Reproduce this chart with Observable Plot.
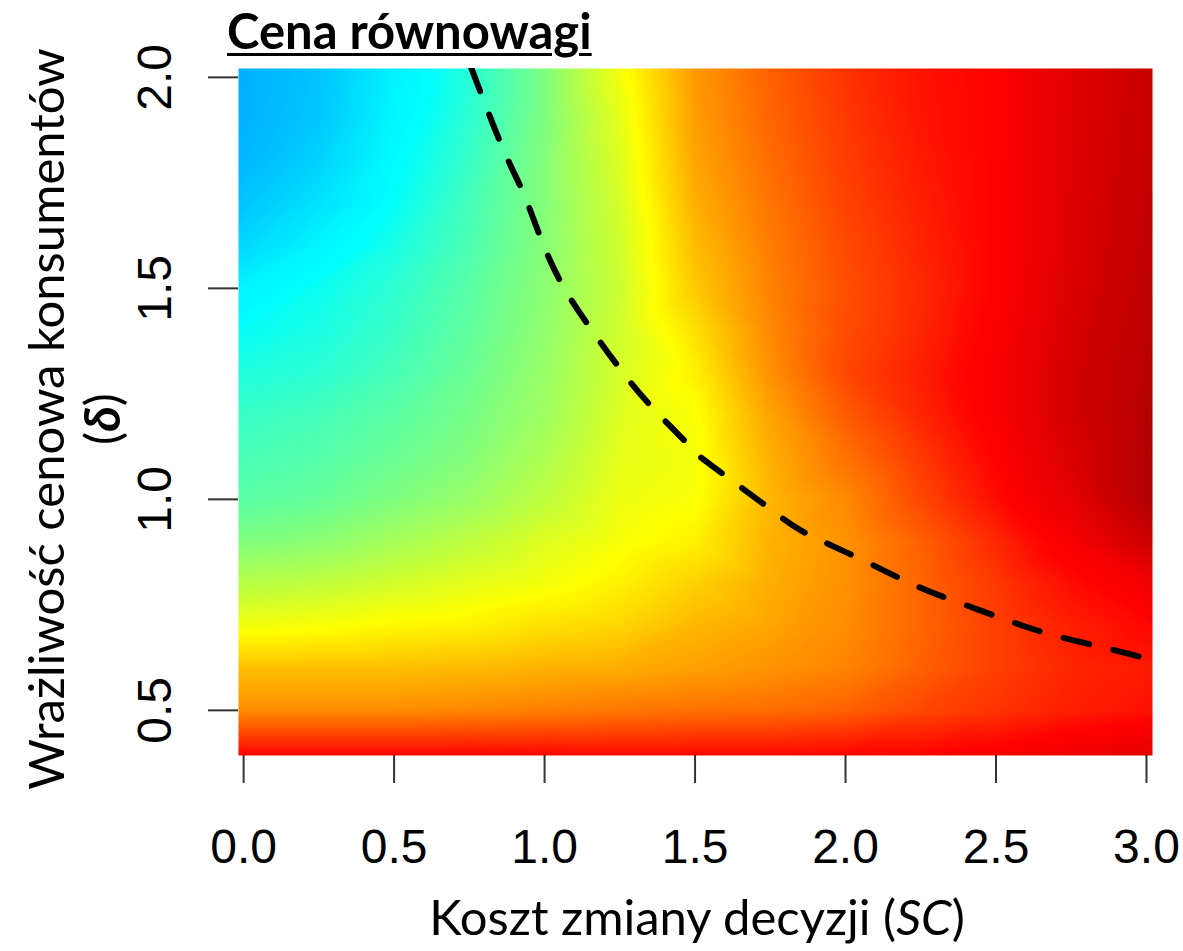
<!DOCTYPE html>
<html>
<head>
<meta charset="utf-8">
<script src="https://cdn.jsdelivr.net/npm/d3@7"></script>
<script src="https://cdn.jsdelivr.net/npm/@observablehq/plot@0.6"></script>
<style>
  html, body { margin: 0; padding: 0; background: #fff; }
  #wrap { position: relative; width: 1183px; height: 951px; overflow: hidden; }
  #chart { position: absolute; left: 0; top: 0; }
  .lbl { position: absolute; font-family: Lato, "Open Sans", sans-serif; color: #000; white-space: nowrap; }
  #title { left: 227px; top: 3px; font-size: 49px; font-weight: bold; text-decoration: underline; text-decoration-thickness: 3px; text-underline-offset: 4px; line-height: 54px; }
  #xlabel { left: 0; width: 1394px; top: 886px; font-size: 49px; text-align: center; line-height: 60px; }
  #ylabel { left: -325px; top: 361px; width: 800px; height: 116px; font-size: 49px; text-align: center; line-height: 56px; transform: rotate(-90deg); transform-origin: 50% 50%; }
</style>
</head>
<body>
<div id="wrap">
  <div id="chart"></div>
  <div id="title" class="lbl">Cena równowagi</div>
  <div id="xlabel" class="lbl">Koszt zmiany decyzji (<i>SC</i>)</div>
  <div id="ylabel" class="lbl">Wrażliwość cenowa konsumentów<br>(<b><i>δ</i></b>)</div>
</div>
<script>
// Switching cost (SC) positions of the colour field columns (outer columns sit on the image edges)
const scValues = [-0.017, 0.25, 0.5, 0.75, 1.0, 1.25, 1.5, 1.75, 2.0, 2.25, 2.5, 2.75, 3.02];
// Price sensitivity (delta) positions of the colour field rows (outer rows sit on the image edges)
const deltaValues = [2.021, 1.9, 1.8, 1.7, 1.6, 1.5, 1.4, 1.3, 1.2, 1.1, 1.0, 0.9, 0.8, 0.7, 0.6, 0.5, 0.393];
// Equilibrium price level (0 = blue, 1 = cyan, 2 = yellow, 3 = red, 4 = dark red)
const priceLevel = [
  [0.00, 0.25, 0.85, 1.15, 1.50, 1.96, 2.40, 2.62, 2.80, 2.93, 3.00, 3.25, 3.47],
  [0.02, 0.30, 0.90, 1.18, 1.50, 1.90, 2.38, 2.60, 2.78, 2.92, 3.00, 3.26, 3.48],
  [0.08, 0.45, 0.97, 1.22, 1.52, 1.87, 2.35, 2.57, 2.76, 2.90, 3.00, 3.27, 3.50],
  [0.25, 0.65, 1.02, 1.27, 1.52, 1.84, 2.31, 2.54, 2.74, 2.88, 3.00, 3.28, 3.52],
  [0.50, 0.90, 1.10, 1.30, 1.53, 1.82, 2.26, 2.51, 2.71, 2.86, 3.00, 3.28, 3.54],
  [0.85, 1.05, 1.18, 1.35, 1.55, 1.80, 2.21, 2.49, 2.69, 2.84, 3.00, 3.30, 3.56],
  [1.02, 1.10, 1.22, 1.38, 1.57, 1.82, 2.12, 2.46, 2.70, 2.85, 3.03, 3.33, 3.60],
  [1.12, 1.17, 1.28, 1.42, 1.60, 1.84, 2.05, 2.43, 2.72, 2.88, 3.06, 3.36, 3.63],
  [1.22, 1.27, 1.36, 1.47, 1.62, 1.87, 1.98, 2.36, 2.64, 2.85, 3.05, 3.36, 3.66],
  [1.28, 1.33, 1.42, 1.52, 1.68, 1.90, 1.96, 2.31, 2.55, 2.78, 3.00, 3.30, 3.68],
  [1.35, 1.40, 1.50, 1.60, 1.75, 1.93, 1.98, 2.28, 2.46, 2.72, 2.95, 3.22, 3.68],
  [1.50, 1.55, 1.65, 1.75, 1.87, 1.97, 2.05, 2.30, 2.42, 2.62, 2.84, 3.07, 3.45],
  [1.72, 1.76, 1.83, 1.90, 1.96, 2.05, 2.18, 2.32, 2.43, 2.60, 2.78, 2.95, 3.10],
  [1.95, 1.98, 2.03, 2.05, 2.12, 2.16, 2.28, 2.35, 2.45, 2.60, 2.75, 2.88, 2.98],
  [2.25, 2.25, 2.25, 2.27, 2.30, 2.32, 2.37, 2.42, 2.48, 2.62, 2.75, 2.85, 2.90],
  [2.45, 2.45, 2.45, 2.47, 2.50, 2.53, 2.56, 2.57, 2.62, 2.72, 2.80, 2.88, 2.94],
  [2.99, 2.99, 2.99, 2.99, 2.98, 2.97, 2.97, 2.97, 2.99, 3.00, 3.04, 3.12, 3.22]
];
// Colour stops of the palette
const levelStops = [0, 1, 2, 3, 4];
const levelColors = ["#00b0ff", "#00ffff", "#ffff00", "#ff0000", "#8b0000"];

// Dashed boundary curve
const curveSC = [0.755, 0.86, 0.93, 0.99, 1.06, 1.15, 1.25, 1.36, 1.48, 1.54, 1.72, 1.85, 2.01, 2.21, 2.34, 2.52, 2.69, 2.87, 3.02];
const curveDelta = [2.025, 1.834, 1.725, 1.614, 1.507, 1.408, 1.31, 1.216, 1.128, 1.088, 0.993, 0.927, 0.872, 0.803, 0.765, 0.718, 0.678, 0.647, 0.619];

// Axis ticks
const xTicks = [0, 0.5, 1.0, 1.5, 2.0, 2.5, 3.0];
const yTicks = [0.5, 1.0, 1.5, 2.0];

const xDomain = [-0.017, 3.02];
const yDomain = [0.393, 2.021];

const gridPoints = [];
deltaValues.forEach((d, i) => scValues.forEach((s, j) => gridPoints.push({sc: s, delta: d, level: priceLevel[i][j]})));
const curvePoints = curveSC.map((s, i) => ({sc: s, delta: curveDelta[i]}));
const fmt = d3.format(".1f");

const chart = Plot.plot({
  width: 1183,
  height: 951,
  marginLeft: 238,
  marginRight: 31,
  marginTop: 68,
  marginBottom: 196,
  style: {fontFamily: "'Liberation Sans', Arial, sans-serif", background: "transparent", overflow: "visible"},
  x: {domain: xDomain},
  y: {domain: yDomain},
  color: {type: "linear", domain: levelStops, range: levelColors, interpolate: "rgb"},
  marks: [
    Plot.raster(gridPoints, {
      x: "sc", y: "delta", fill: "level",
      interpolate: "barycentric",
      x1: xDomain[0], x2: xDomain[1], y1: yDomain[0], y2: yDomain[1]
    }),
    Plot.line(curvePoints, {
      x: "sc", y: "delta", curve: "natural",
      stroke: "#000", strokeWidth: 6, strokeDasharray: "26,25", strokeLinecap: "round",
      clip: true
    }),
    Plot.axisX(xTicks, {
      tickSize: 28, tickPadding: 45, fontSize: 48, tickFormat: fmt,
      label: null, stroke: "#333", strokeWidth: 2
    }),
    Plot.axisY(yTicks, {
      tickSize: 30, tickFormat: () => "", label: null, stroke: "#333", strokeWidth: 2
    }),
    Plot.text(yTicks, {
      y: (d) => d, frameAnchor: "left", dx: -68, rotate: -90,
      text: (d) => fmt(d), textAnchor: "middle", lineAnchor: "bottom",
      fontSize: 48, fill: "#000"
    })
  ]
});
document.getElementById("chart").appendChild(chart);
</script>
</body>
</html>
